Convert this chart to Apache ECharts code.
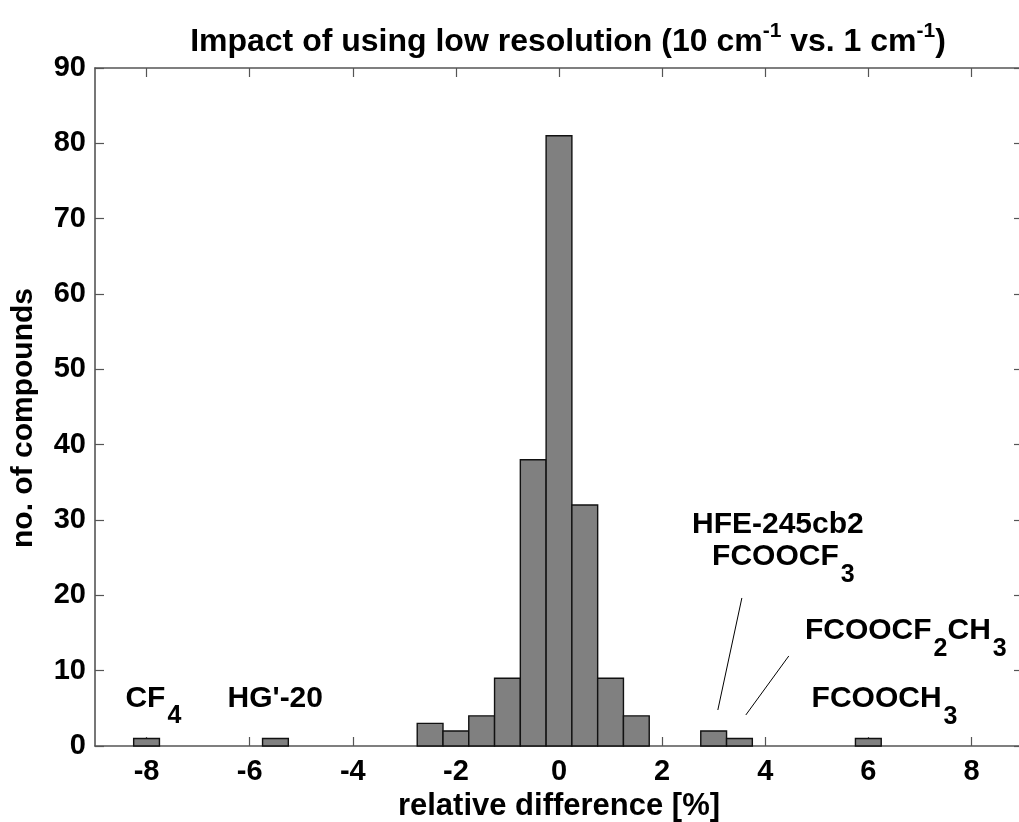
<!DOCTYPE html>
<html>
<head>
<meta charset="utf-8">
<script src="https://cdn.jsdelivr.net/npm/echarts@6/dist/echarts.min.js"></script>
<style>html,body{margin:0;padding:0;background:#fff}#c{width:1019px;height:822px}</style>
</head>
<body>
<div id="c"></div>
<script>
// Histogram data
const binCenters = [-8, -5.5, -2.5, -2, -1.5, -1, -0.5, 0, 0.5, 1, 1.5, 3, 3.5, 6];
const counts     = [1, 1, 3, 2, 4, 9, 38, 81, 32, 9, 4, 2, 1, 1];
const binWidth = 0.5;
const xTickValues = [-8, -6, -4, -2, 0, 2, 4, 6, 8];
const xRange = [-9, 9];
const yRange = [0, 90];
const yStep = 10;

// Annotations (data coordinates)
const annoX = [-8.41, -6.43, 2.58, 2.97, 4.77, 4.90];
const annoY = [6.3, 6.3, 29.35, 25.1, 15.27, 6.24];
const annoText = ['{m|CF}{s|4}', "{m|HG'-20}", '{m|HFE-245cb2}', '{m|FCOOCF}{s|3}', '{m|FCOOCF}{s|2}{m|CH}{s|3}', '{m|FCOOCH}{s|3}'];
const leaderLines = [
  [[3.547, 19.65], [3.081, 4.78]],
  [[4.457, 11.95], [3.624, 4.12]]
];

const FONT = "'Liberation Sans', Arial, sans-serif";
const axisColor = '#555555';

const chart = echarts.init(document.getElementById('c'));
const commonX = {
  type: 'value', min: xRange[0], max: xRange[1],
  axisLine: {show: true, onZero: false, lineStyle: {color: axisColor, width: 1.6}},
  axisTick: {show: true, inside: true, length: 9, customValues: xTickValues, lineStyle: {color: axisColor, width: 1.2}},
  splitLine: {show: false}
};
const commonY = {
  type: 'value', min: yRange[0], max: yRange[1], interval: yStep,
  axisLine: {show: true, onZero: false, lineStyle: {color: axisColor, width: 1.6}},
  axisTick: {show: true, inside: true, length: 9, lineStyle: {color: axisColor, width: 1.2}},
  splitLine: {show: false}
};

const option = {
  animation: false,
  backgroundColor: '#fff',
  title: {
    left: 563, top: 16, textAlign: 'center',
    text: '{t|Impact of using low resolution (10 cm}{p|-1}{t| vs. 1 cm}{p|-1}{t|)}',
    textStyle: {
      rich: {
        t: {fontFamily: FONT, fontSize: 32, fontWeight: 'bold', color: '#000'},
        p: {fontFamily: FONT, fontSize: 21, fontWeight: 'bold', color: '#000', padding: [0, 0, 22, 0]}
      }
    }
  },
  grid: {left: 95, top: 68, right: -4, bottom: 76, containLabel: false, outerBoundsMode: 'none'},
  xAxis: [
    Object.assign({}, commonX, {
      position: 'bottom',
      name: 'relative difference [%]', nameLocation: 'middle', nameGap: 40,
      nameTextStyle: {fontFamily: FONT, fontSize: 31, fontWeight: 'bold', color: '#000'},
      axisLabel: {show: true, customValues: xTickValues, margin: 11, fontFamily: FONT, fontSize: 29, fontWeight: 'bold', color: '#000'}
    }),
    Object.assign({}, commonX, {position: 'top', axisLabel: {show: false}})
  ],
  yAxis: [
    Object.assign({}, commonY, {
      position: 'left',
      name: 'no. of compounds', nameLocation: 'middle', nameGap: 56, nameRotate: 90,
      nameTextStyle: {fontFamily: FONT, fontSize: 30, fontWeight: 'bold', color: '#000', padding: [0, 22, 0, 0]},
      axisLabel: {show: true, margin: 9, fontFamily: FONT, fontSize: 29, fontWeight: 'bold', color: '#000'}
    }),
    Object.assign({}, commonY, {position: 'right', axisLabel: {show: false}})
  ],
  series: [
    {
      type: 'custom',
      xAxisIndex: 0, yAxisIndex: 0,
      data: binCenters.map((c, i) => [c, counts[i]]),
      renderItem: function (params, api) {
        const c = api.value(0), h = api.value(1);
        const p0 = api.coord([c - binWidth / 2, h]);
        const p1 = api.coord([c + binWidth / 2, 0]);
        return {
          type: 'rect',
          shape: {x: p0[0], y: p0[1], width: p1[0] - p0[0], height: p1[1] - p0[1]},
          style: {fill: '#808080', stroke: '#111', lineWidth: 1.4}
        };
      },
      z: 2
    },
    {
      type: 'lines',
      coordinateSystem: 'cartesian2d',
      xAxisIndex: 0, yAxisIndex: 0,
      data: leaderLines.map(l => ({coords: l})),
      lineStyle: {color: '#000', width: 1, opacity: 1},
      z: 3
    },
    {
      type: 'scatter',
      xAxisIndex: 0, yAxisIndex: 0,
      symbolSize: 0,
      itemStyle: {opacity: 1},
      data: annoX.map((x, i) => ({value: [x, annoY[i]], label: {formatter: annoText[i]}})),
      label: {
        show: true, position: 'right', distance: 0, color: '#000', opacity: 1, textBorderWidth: 0,
        rich: {
          m: {fontFamily: FONT, fontSize: 30, fontWeight: 'bold', color: '#000'},
          s: {fontFamily: FONT, fontSize: 25, fontWeight: 'bold', color: '#000', padding: [36, 0, 0, 2]}
        }
      },
      emphasis: {disabled: true},
      z: 4
    }
  ]
};
chart.setOption(option);
</script>
</body>
</html>
